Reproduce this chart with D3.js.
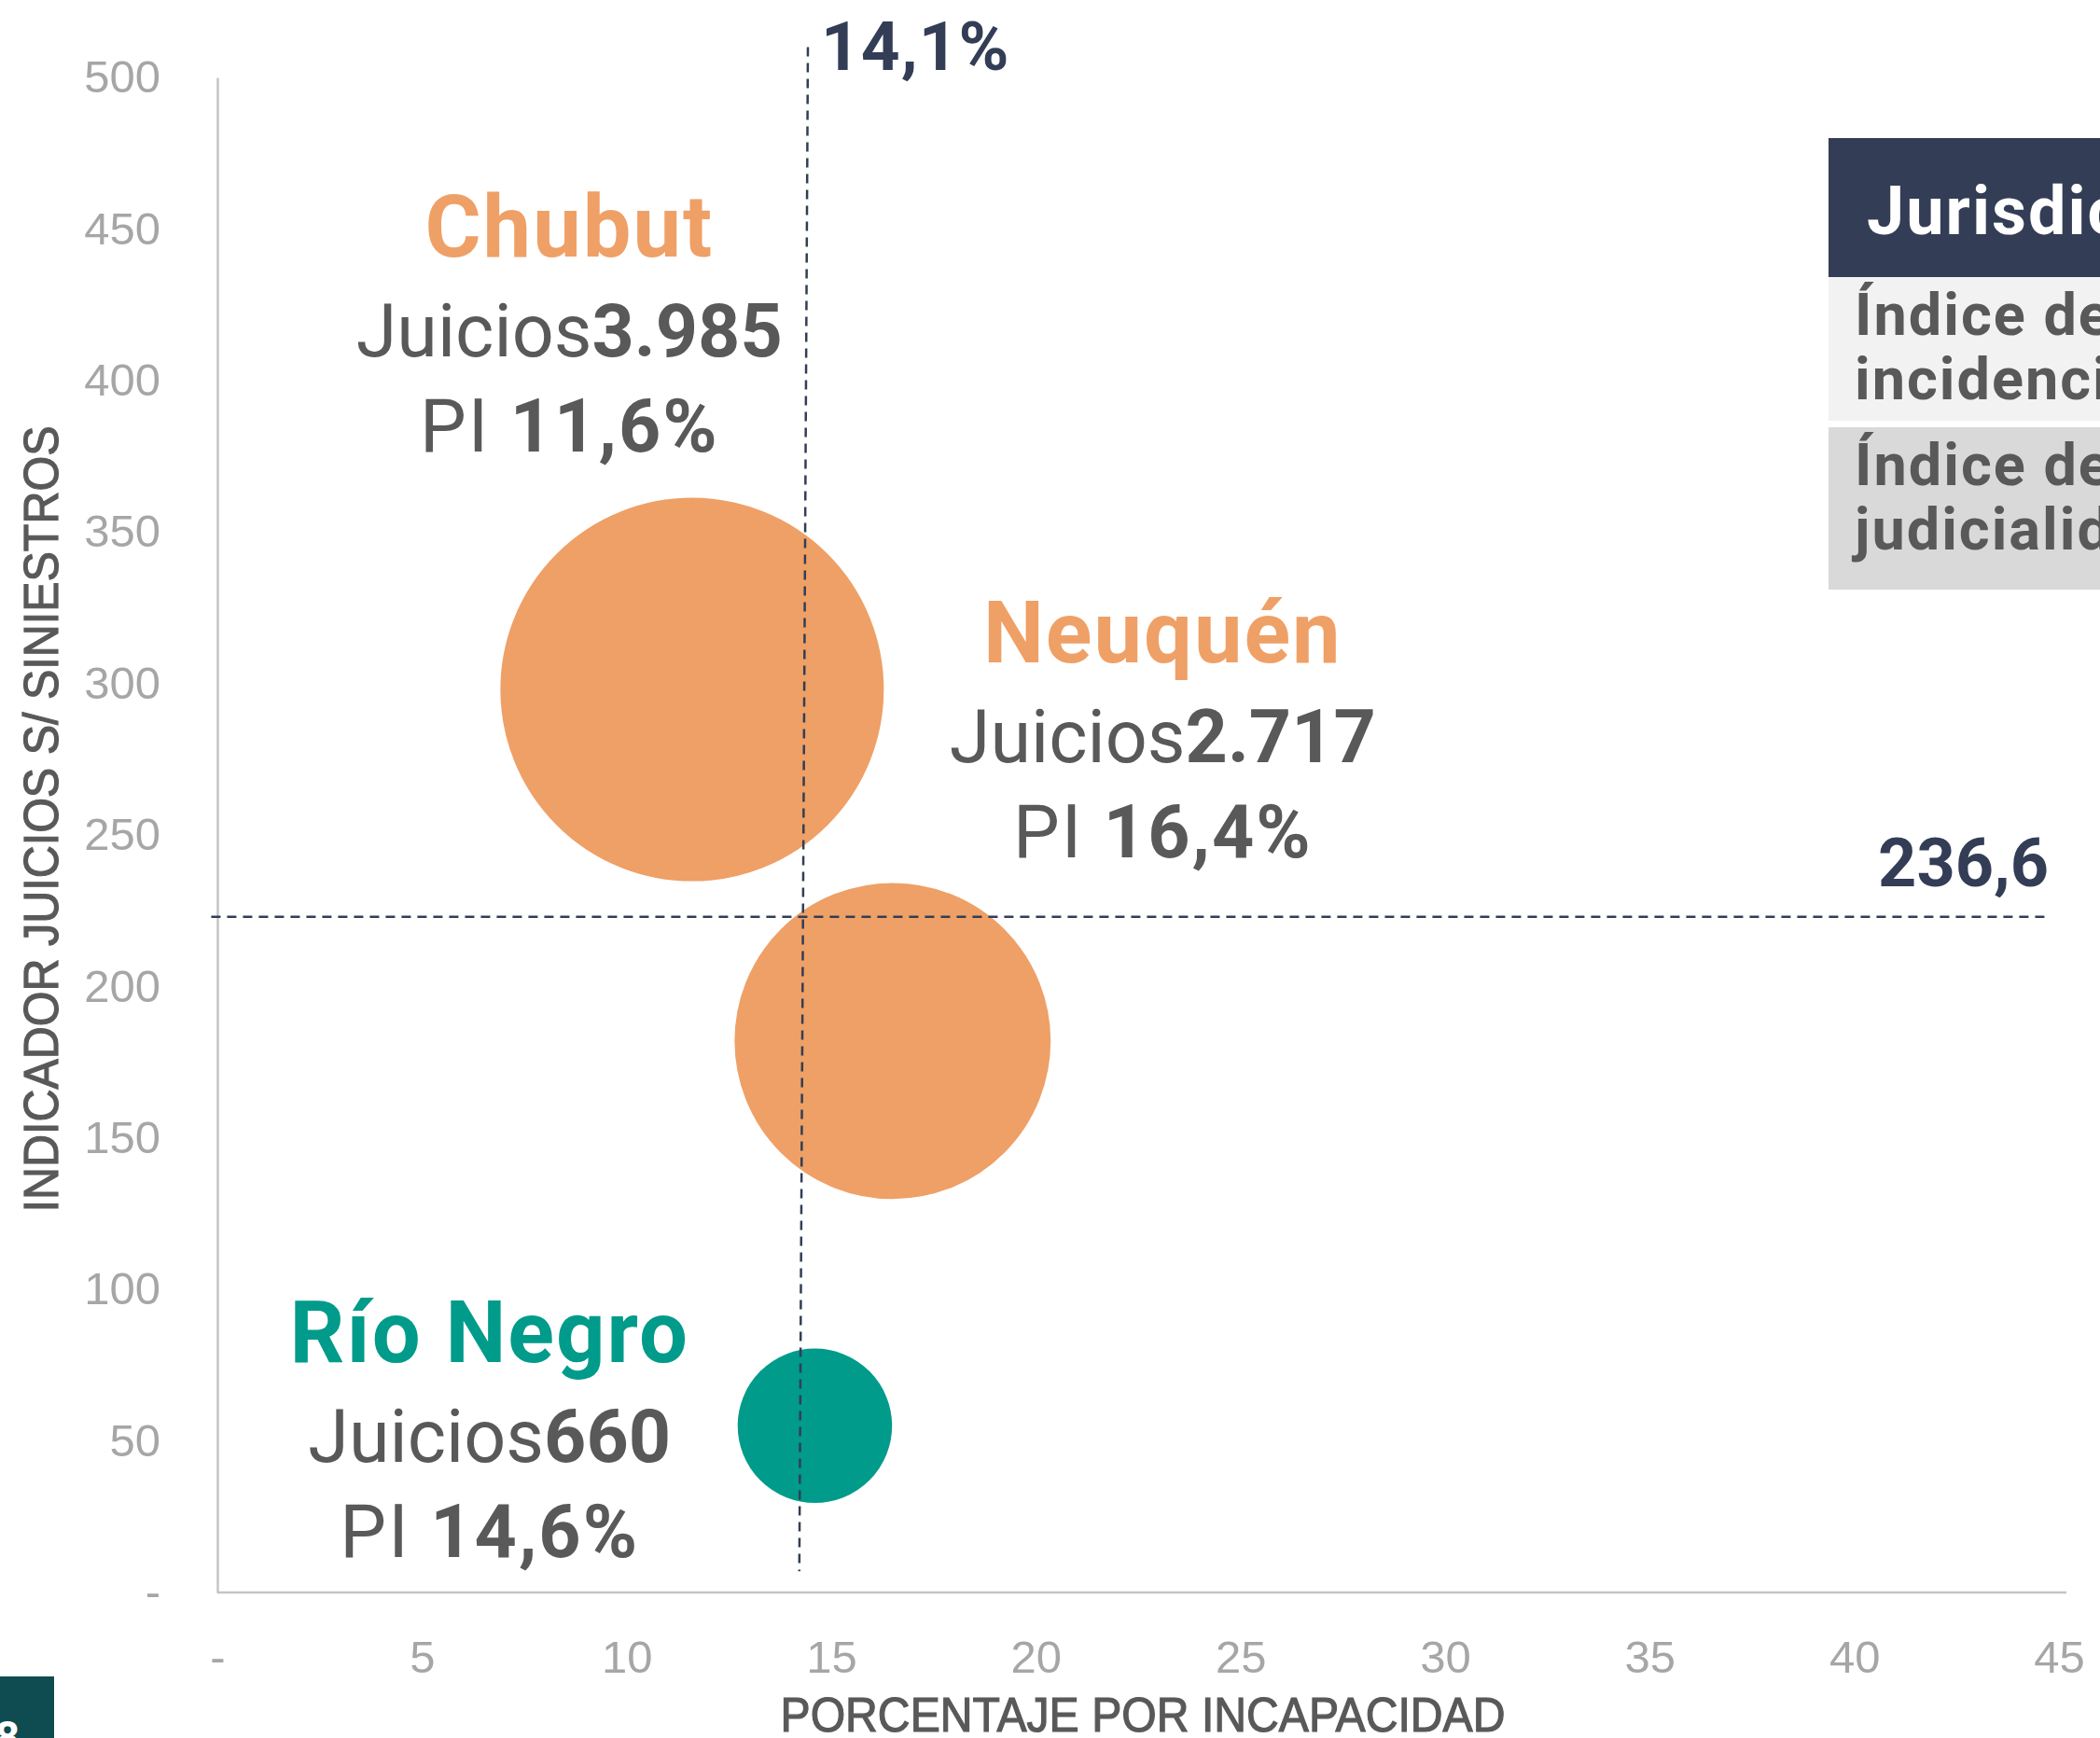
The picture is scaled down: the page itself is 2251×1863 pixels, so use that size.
<!DOCTYPE html>
<html>
<head>
<meta charset="utf-8">
<script src="https://cdn.jsdelivr.net/npm/d3@7"></script>
<style>
  html, body { margin: 0; padding: 0; background: #fff; overflow: hidden; }
  svg { display: block; }
</style>
</head>
<body>
<div id="chart"></div>
<script>
// datos del gráfico
const regions = ["Chubut", "Neuquén", "Río Negro"];
const pctIncapacidad = [11.6, 16.5, 14.6];
const indicadorJuicios = [298, 182, 55];
const juicios = [3985, 2717, 660];
const juiciosLabels = ["3.985", "2.717", "660"];
const piLabels = ["11,6%", "16,4%", "14,6%"];

const xTicks = [0, 5, 10, 15, 20, 25, 30, 35, 40, 45];
const yTicks = [0, 50, 100, 150, 200, 250, 300, 350, 400, 450, 500];

// promedios (líneas de referencia)
const avgPI = "14,1%";
const avgJuicios = "236,6";
const vRefLine = [[14.43, 510], [14.22, 7]];
const hRefLine = [[-0.15, 223], [44.75, 223]];

// tabla de la derecha
const tableHeader = "Jurisdicción";
const tableRows = [["Índice de", "incidencia"], ["Índice de", "judicialidad"]];

const W = 2251, H = 1863;
const orange = "#efa066", teal = "#009b8a", navy = "#333d56", grey = "#595959";
const bubbleColors = [orange, orange, teal];

// posición de los rótulos en unidades de datos (x, y de la línea del nombre)
const labelAnchors = [[8.6, 441], [23.1, 307], [6.65, 76]];

const svg = d3.select("#chart").append("svg")
    .attr("width", W).attr("height", H)
    .attr("viewBox", [0, 0, W, H]);

const x = d3.scaleLinear().domain([0, 45]).range([233, 2207]);
const y = d3.scaleLinear().domain([0, 500]).range([1707, 83]);
const r = d3.scaleSqrt().domain([0, 3985]).range([0, 207]);

const fmt = d => d === 0 ? "-" : d;

// ejes
const yAxis = svg.append("g").attr("transform", `translate(${x(0)},0)`)
    .call(d3.axisLeft(y).tickValues(yTicks).tickFormat(fmt).tickSize(0).tickSizeOuter(0).tickPadding(61));
const xAxis = svg.append("g").attr("transform", `translate(0,${y(0)})`)
    .call(d3.axisBottom(x).tickValues(xTicks).tickFormat(fmt).tickSize(0).tickSizeOuter(0).tickPadding(51));

[xAxis, yAxis].forEach(a => {
    a.select(".domain").attr("stroke", "#c4c4c4").attr("stroke-width", 2.5);
    a.selectAll("text")
        .attr("fill", "#a6a6a6")
        .style("font-family", "'Liberation Sans', Arial, sans-serif")
        .style("font-size", "49px");
});
xAxis.select(".domain").attr("d", `M${x(0)},0H${x(45) + 8}`);

// títulos de ejes
svg.append("text")
    .attr("transform", `translate(62,878) rotate(-90)`)
    .attr("text-anchor", "middle")
    .attr("fill", grey)
    .attr("stroke", grey).attr("stroke-width", 1.2)
    .attr("textLength", 843).attr("lengthAdjust", "spacingAndGlyphs")
    .style("font-family", "'Liberation Sans Narrow', 'Liberation Sans', Arial, sans-serif")
    .style("font-size", "51px")
    .text("INDICADOR JUICIOS S/ SINIESTROS");

svg.append("text")
    .attr("x", 1225).attr("y", 1856)
    .attr("text-anchor", "middle")
    .attr("fill", grey)
    .attr("stroke", grey).attr("stroke-width", 1.2)
    .attr("textLength", 777).attr("lengthAdjust", "spacingAndGlyphs")
    .style("font-family", "'Liberation Sans Narrow', 'Liberation Sans', Arial, sans-serif")
    .style("font-size", "51px")
    .text("PORCENTAJE POR INCAPACIDAD");

// burbujas
const data = regions.map((name, i) => ({
    name, pi: pctIncapacidad[i], ind: indicadorJuicios[i], juicios: juicios[i],
    jLabel: juiciosLabels[i], piLabel: piLabels[i], color: bubbleColors[i], anchor: labelAnchors[i]
}));

svg.append("g").selectAll("circle")
    .data(data)
    .join("circle")
    .attr("cx", d => x(d.pi))
    .attr("cy", d => y(d.ind))
    .attr("r", d => r(d.juicios))
    .attr("fill", d => d.color)
    .attr("stroke", "#fff")
    .attr("stroke-width", 3);

// líneas de referencia
const line = d3.line().x(d => x(d[0])).y(d => y(d[1]));
[vRefLine, hRefLine].forEach(pts => {
    svg.append("path")
        .attr("d", line(pts))
        .attr("fill", "none")
        .attr("stroke", navy)
        .attr("stroke-width", 2.5)
        .attr("stroke-dasharray", "10,7");
});

svg.append("text")
    .attr("x", x(vRefLine[0][0]) + 14).attr("y", 75)
    .attr("fill", navy)
    .style("font-family", "Roboto, sans-serif")
    .style("font-weight", 700)
    .style("font-size", "73px")
    .style("letter-spacing", "1px")
    .text(avgPI);

svg.append("text")
    .attr("x", x(hRefLine[1][0])).attr("y", y(hRefLine[1][1]) - 33)
    .attr("text-anchor", "end")
    .attr("fill", navy)
    .style("font-family", "Roboto, sans-serif")
    .style("font-weight", 700)
    .style("font-size", "72px")
    .text(avgJuicios);

// rótulos de las jurisdicciones
const labels = svg.append("g")
    .style("font-family", "Roboto, sans-serif")
    .attr("text-anchor", "middle");

data.forEach(d => {
    const lx = x(d.anchor[0]), ly = y(d.anchor[1]);
    labels.append("text")
        .attr("x", lx).attr("y", ly)
        .attr("fill", d.color)
        .style("font-weight", 700)
        .style("font-size", "92px")
        .style("letter-spacing", "2px")
        .text(d.name);
    const t1 = labels.append("text")
        .attr("x", lx).attr("y", ly + 107)
        .attr("fill", grey)
        .style("font-size", "79px");
    t1.append("tspan").style("font-weight", 400).text("Juicios");
    t1.append("tspan").style("font-weight", 700).text(d.jLabel);
    const t2 = labels.append("text")
        .attr("x", lx).attr("y", ly + 209)
        .attr("fill", grey)
        .style("font-size", "79px")
        .style("letter-spacing", "2px");
    t2.append("tspan").style("font-weight", 400).text("PI ");
    t2.append("tspan").style("font-weight", 700).text(d.piLabel);
});

// tabla (recortada por el borde)
const table = svg.append("g").style("font-family", "Roboto, sans-serif").style("font-weight", 700);
table.append("rect").attr("x", 1960).attr("y", 148).attr("width", 400).attr("height", 149).attr("fill", navy);
table.append("text").attr("x", 2001).attr("y", 251).attr("fill", "#fff")
    .style("font-size", "72px").style("letter-spacing", "2px").text(tableHeader);

const rowBoxes = [[297, 154, "#f2f2f2"], [458, 174, "#d9d9d9"]];
tableRows.forEach((rowText, i) => {
    const [ry, rh, fill] = rowBoxes[i];
    table.append("rect").attr("x", 1960).attr("y", ry).attr("width", 400).attr("height", rh).attr("fill", fill);
    rowText.forEach((t, j) => {
        table.append("text")
            .attr("x", 1988).attr("y", ry + 62 + j * 69)
            .attr("fill", grey)
            .style("font-size", "63px")
            .style("letter-spacing", "2px")
            .text(t);
    });
});

// número de página
svg.append("rect").attr("x", 0).attr("y", 1797).attr("width", 58).attr("height", 66).attr("fill", "#0f4c52");
svg.append("text").attr("x", 8).attr("y", 1878).attr("text-anchor", "middle")
    .attr("fill", "#fff")
    .style("font-family", "Roboto, sans-serif").style("font-weight", 700).style("font-size", "46px")
    .text("8");
</script>
</body>
</html>
